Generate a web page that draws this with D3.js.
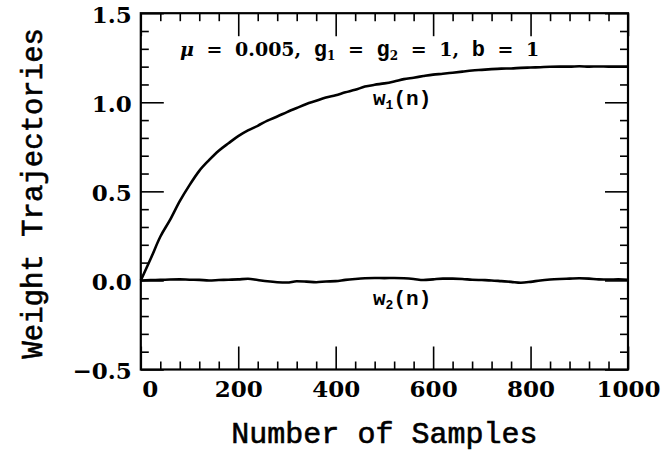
<!DOCTYPE html>
<html><head><meta charset="utf-8">
<script src="https://cdn.jsdelivr.net/npm/d3@7"></script>
<style>
html,body{margin:0;padding:0;background:#fff;}
svg{display:block;}
</style></head>
<body>
<svg id="chart" width="672" height="454"></svg>
<script>
// ---- data ----
const samples = [0,20,40,60,80,100,120,140,160,180,200,220,240,260,280,300,320,340,360,380,400,
  420,440,460,480,500,520,540,560,580,600,620,640,660,680,700,720,740,760,780,800,
  820,840,860,880,900,920,940,960,980,1000];
const w1 = [0,0.12,0.245,0.34,0.445,0.535,0.615,0.675,0.728,0.77,0.81,0.842,0.868,0.897,0.92,0.945,0.968,0.99,1.008,1.027,1.04,
  1.056,1.07,1.088,1.098,1.106,1.117,1.13,1.138,1.147,1.155,1.16,1.166,1.172,1.178,1.182,1.186,1.189,1.19,1.193,1.195,
  1.197,1.199,1.2,1.2,1.202,1.2,1.201,1.2,1.2,1.2];
const w2 = [0,0.002,0.003,0.005,0.006,0.004,0.003,0.0,0.002,0.004,0.006,0.009,0.002,-0.005,-0.01,-0.012,-0.005,-0.007,-0.01,-0.006,-0.004,
  0.003,0.008,0.012,0.014,0.013,0.014,0.012,0.008,0.002,0.006,0.01,0.01,0.008,0.004,0.002,0.0,-0.004,-0.008,-0.013,-0.008,
  0.0,0.005,0.008,0.01,0.012,0.01,0.006,0.005,0.006,0.004];
const xMajor = [0,200,400,600,800,1000];
const xMinor = [40,80,120,160,240,280,320,360,440,480,520,560,640,680,720,760,840,880,920,960];
const yMajor = [-0.5,0,0.5,1,1.5];
const yMinor = [-0.4,-0.3,-0.2,-0.1,0.1,0.2,0.3,0.4,0.6,0.7,0.8,0.9,1.1,1.2,1.3,1.4];
const yTickLabels = ["\u22120.5","0.0","0.5","1.0","1.5"];
const xTitle = "Number of Samples";
const yTitle = "Weight Trajectories";

// ---- layout ----
const L = 140.8, R = 628, T = 13.2, B = 369.5;
const svg = d3.select("#chart");
const x = d3.scaleLinear().domain([0,1000]).range([L,R]);
const y = d3.scaleLinear().domain([-0.5,1.5]).range([B,T]);
const tickFont = "'DejaVu Serif', serif";
const monoFont = "'Liberation Mono', 'Courier New', monospace";

function styleAxis(g){
  g.select(".domain").remove();
  g.selectAll(".tick line").attr("stroke","#000").attr("stroke-width",1.6);
}
// bottom
svg.append("g").attr("transform",`translate(0,${B})`)
  .call(d3.axisBottom(x).tickValues(xMajor).tickSize(-23).tickPadding(27).tickFormat(d3.format("d")))
  .call(styleAxis)
  .call(g=>g.selectAll("text").attr("font-family",tickFont).attr("font-weight","bold").attr("font-size",23).attr("fill","#000")
     .attr("dy",0).attr("dx",d=>d===0?9:0));
svg.append("g").attr("transform",`translate(0,${B})`)
  .call(d3.axisBottom(x).tickValues(xMinor).tickSize(-8).tickFormat("")).call(styleAxis);
// top
svg.append("g").attr("transform",`translate(0,${T})`)
  .call(d3.axisTop(x).tickValues(xMajor).tickSize(-23).tickFormat("")).call(styleAxis);
svg.append("g").attr("transform",`translate(0,${T})`)
  .call(d3.axisTop(x).tickValues(xMinor).tickSize(-8).tickFormat("")).call(styleAxis);
// left
svg.append("g").attr("transform",`translate(${L},0)`)
  .call(d3.axisLeft(y).tickValues(yMajor).tickSize(-23).tickPadding(9).tickFormat((d,i)=>yTickLabels[i]))
  .call(styleAxis)
  .call(g=>g.selectAll("text").attr("font-family",tickFont).attr("font-weight","bold").attr("font-size",23).attr("fill","#000").attr("dy","0.4em"));
svg.append("g").attr("transform",`translate(${L},0)`)
  .call(d3.axisLeft(y).tickValues(yMinor).tickSize(-8).tickFormat("")).call(styleAxis);
// right
svg.append("g").attr("transform",`translate(${R},0)`)
  .call(d3.axisRight(y).tickValues(yMajor).tickSize(-23).tickFormat("")).call(styleAxis);
svg.append("g").attr("transform",`translate(${R},0)`)
  .call(d3.axisRight(y).tickValues(yMinor).tickSize(-8).tickFormat("")).call(styleAxis);

// frame
svg.append("rect").attr("x",L).attr("y",T).attr("width",R-L).attr("height",B-T)
  .attr("fill","none").attr("stroke","#000").attr("stroke-width",2.2);

// lines
const line = d3.line().x((d,i)=>x(samples[i])).y(d=>y(d)).curve(d3.curveMonotoneX);
svg.append("path").datum(w1).attr("d",line).attr("fill","none").attr("stroke","#000").attr("stroke-width",2.6);
svg.append("path").datum(w2).attr("d",line).attr("fill","none").attr("stroke","#000").attr("stroke-width",2.6);

// annotation
const ann = svg.append("text").attr("x",180).attr("y",56).attr("font-family",tickFont).attr("font-weight","bold")
  .attr("font-size",19).attr("fill","#000").attr("word-spacing",6).style("white-space","pre");
ann.append("tspan").attr("font-style","italic").text("\u03bc");
ann.append("tspan").text(" = 0.005, ");
ann.append("tspan").attr("font-family",monoFont).attr("font-size",22).text("g");
ann.append("tspan").attr("font-size",12).attr("dy",4).text("1");
ann.append("tspan").attr("dy",-4).text(" = ");
ann.append("tspan").attr("font-family",monoFont).attr("font-size",22).text("g");
ann.append("tspan").attr("font-size",12).attr("dy",4).text("2");
ann.append("tspan").attr("dy",-4).text(" = 1, ");
ann.append("tspan").attr("font-family",monoFont).attr("font-size",22).text("b");
ann.append("tspan").text(" = 1");

// series labels
function wLabel(xx,yy,sub){
  const t = svg.append("text").attr("x",xx).attr("y",yy).attr("font-family",monoFont).attr("font-weight","bold")
    .attr("font-size",21).attr("fill","#000");
  t.append("tspan").text("w");
  t.append("tspan").attr("font-size",13).attr("dy",4).text(sub);
  t.append("tspan").attr("dy",-4).text("(n)");
}
wLabel(373,105,"1");
wLabel(373,305,"2");

// axis titles
svg.append("text").attr("x",(L+R)/2).attr("y",443).attr("text-anchor","middle")
  .attr("font-family",monoFont).attr("font-size",30).attr("fill","#000")
  .attr("stroke","#000").attr("stroke-width",0.6).text(xTitle);
svg.append("text").attr("transform",`translate(42,${(T+B)/2+2}) rotate(-90)`).attr("text-anchor","middle")
  .attr("font-family",monoFont).attr("font-size",29).attr("fill","#000")
  .attr("stroke","#000").attr("stroke-width",0.6).text(yTitle);
</script>
</body></html>
